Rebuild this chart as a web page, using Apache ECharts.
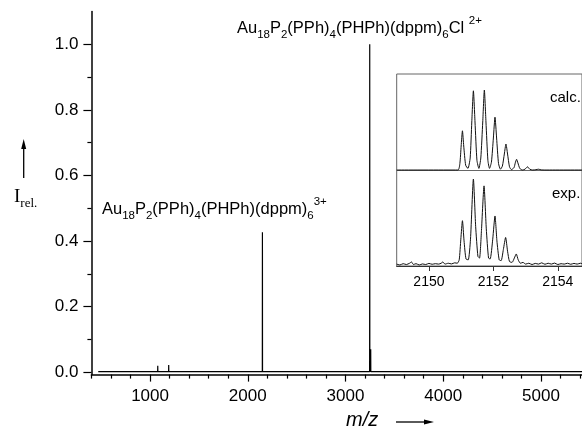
<!DOCTYPE html>
<html>
  <head>
    <meta charset="utf-8">
    <title>ESI mass spectrum</title>
    <script src="https://cdn.jsdelivr.net/npm/echarts@6/dist/echarts.min.js"></script>
    <style>
      html, body { margin: 0; padding: 0; background: #fff; }
    </style>
  </head>
  <body>
    <div id="main" style="width: 582px;height:433px;"></div>
    <script type="text/javascript">
      // main spectrum: stick peaks (m/z, relative intensity)
      var peakMz  = [488, 567, 640, 703, 772, 1079, 1191, 1450, 1614, 2150, 2354, 2553, 3248, 3258, 4345];
      var peakInt = [0.008, 0.006, 0.005, 0.007, 0.008, 0.020, 0.022, 0.004, 0.007, 0.427, 0.008, 0.004, 1.0, 0.07, 0.005];
      var baseLevel = 0.002;

      // axis ticks
      var xMajor = [1000, 2000, 3000, 4000, 5000];
      var xMinor = [400, 600, 800, 1200, 1400, 1600, 1800, 2200, 2400, 2600, 2800, 3200, 3400, 3600, 3800, 4200, 4400, 4600, 4800, 5200, 5400];
      var yMajor = [0, 0.2, 0.4, 0.6, 0.8, 1.0];
      var yMinor = [0.1, 0.3, 0.5, 0.7, 0.9];
      var insetTicks = [2150, 2152, 2154];

      // inset: calculated isotope pattern (profile)
      var calcX = [2149.0, 2150.90, 2150.96, 2151.00, 2151.04, 2151.08, 2151.14, 2151.21, 2151.28, 2151.33, 2151.38, 2151.43, 2151.49, 2151.55,
                   2151.61, 2151.67, 2151.72, 2151.77, 2151.83, 2151.88, 2151.94, 2152.00, 2152.05, 2152.10, 2152.16, 2152.22, 2152.28, 2152.34,
                   2152.39, 2152.44, 2152.50, 2152.56, 2152.64, 2152.68, 2152.72, 2152.76, 2152.82, 2152.90, 2152.98, 2153.06, 2153.13, 2153.22,
                   2153.32, 2153.40, 2153.48, 2153.60, 2155.0];
      var calcY = [0, 0, 0.08, 0.30, 0.49, 0.30, 0.06, 0.02, 0.15, 0.60, 0.99, 0.60, 0.12, 0.02,
                   0.15, 0.60, 1.0, 0.60, 0.12, 0.02, 0.10, 0.40, 0.66, 0.40, 0.08, 0.01, 0.05, 0.20,
                   0.325, 0.20, 0.04, 0.005, 0.03, 0.09, 0.134, 0.09, 0.02, 0, 0.01, 0.04, 0.01, 0,
                   0.004, 0.01, 0.002, 0, 0];

      // inset: experimental pattern
      var expX = [2149.0, 2149.1, 2149.2, 2149.3, 2149.4, 2149.46, 2149.52, 2149.6, 2149.7, 2149.8, 2149.9, 2150.0, 2150.1, 2150.2, 2150.3,
                  2150.38, 2150.43, 2150.5, 2150.6, 2150.7, 2150.8, 2150.88, 2150.94, 2150.99, 2151.04, 2151.09, 2151.15, 2151.22,
                  2151.29, 2151.38, 2151.45, 2151.52, 2151.57, 2151.63, 2151.71, 2151.78, 2151.85, 2151.90, 2151.98, 2152.05, 2152.11,
                  2152.18, 2152.24, 2152.31, 2152.38, 2152.44, 2152.50, 2152.58, 2152.65, 2152.71, 2152.77, 2152.84, 2152.92, 2153.0,
                  2153.1, 2153.2, 2153.3, 2153.4, 2153.5, 2153.6, 2153.7, 2153.8, 2153.9, 2154.0, 2154.1, 2154.2, 2154.3, 2154.4,
                  2154.5, 2154.6, 2154.7, 2154.8];
      var expY = [0.01, 0.0, 0.015, 0.005, 0.02, 0.035, 0.005, 0.015, 0.0, 0.012, 0.005, 0.018, 0.008, 0.015, 0.01,
                  0.02, 0.035, 0.01, 0.02, 0.012, 0.025, 0.02, 0.06, 0.30, 0.515, 0.28, 0.07, 0.06,
                  0.30, 1.0, 0.45, 0.10, 0.08, 0.40, 0.92, 0.42, 0.08, 0.07, 0.30, 0.57, 0.28,
                  0.06, 0.05, 0.18, 0.32, 0.16, 0.04, 0.03, 0.08, 0.128, 0.06, 0.02, 0.03, 0.01,
                  0.02, 0.005, 0.018, 0.01, 0.025, 0.008, 0.02, 0.01, 0.022, 0.005, 0.015, 0.01, 0.02, 0.008,
                  0.018, 0.01, 0.02, 0.01];

      var FONT = 'Liberation Sans, Arial, sans-serif';
      var plain = function (v) { return String(v); };

      // build stick spectrum
      var mainData = [[470, baseLevel]];
      for (var i = 0; i < peakMz.length; i++) {
        mainData.push([peakMz[i] - 1, baseLevel], [peakMz[i], peakInt[i]], [peakMz[i] + 1, baseLevel]);
      }
      mainData.push([5420, baseLevel]);

      var calcData = calcX.map(function (x, i) { return [x, calcY[i]]; });
      var expData = expX.map(function (x, i) { return [x, expY[i]]; });

      var myChart = echarts.init(document.getElementById('main'));

      var sub = { fontSize: 11.5, lineHeight: 12, verticalAlign: 'bottom', fontFamily: FONT };
      var sup = { fontSize: 11.5, lineHeight: 12, verticalAlign: 'top', fontFamily: FONT };

      var option = {
        animation: false,
        backgroundColor: '#fff',
        grid: [
          { left: 91.4, top: 11.5, right: 0, height: 363.1 },
          { left: 396.7, top: 74, right: -5, height: 96.5, show: true, borderColor: '#666', borderWidth: 1 },
          { left: 396.7, top: 170.5, right: -5, height: 95.5, show: true, borderColor: '#666', borderWidth: 1 }
        ],
        xAxis: [
          {
            gridIndex: 0, type: 'value', min: 400, max: 5420, position: 'bottom',
            axisLine: { onZero: false, lineStyle: { color: '#000', width: 1.5 } },
            axisTick: { customValues: xMajor, length: 7, lineStyle: { color: '#000', width: 1.2 } },
            axisLabel: { customValues: xMajor, fontSize: 17, margin: 13, color: '#000', fontFamily: FONT, formatter: plain },
            splitLine: { show: false }
          },
          {
            gridIndex: 0, type: 'value', min: 400, max: 5420, position: 'bottom', offset: 0,
            axisLine: { show: false, onZero: false },
            axisTick: { customValues: xMinor, length: 4, lineStyle: { color: '#000', width: 1.2 } },
            axisLabel: { show: false },
            splitLine: { show: false }
          },
          {
            gridIndex: 1, type: 'value', min: 2149, max: 2154.75,
            axisLine: { show: false }, axisTick: { show: false }, axisLabel: { show: false }, splitLine: { show: false }
          },
          {
            gridIndex: 2, type: 'value', min: 2149, max: 2154.75, position: 'bottom',
            axisLine: { onZero: false, lineStyle: { color: '#333', width: 1.2 } },
            axisTick: { customValues: insetTicks, length: 5, lineStyle: { color: '#333' } },
            axisLabel: { customValues: insetTicks, fontSize: 14, margin: 9, color: '#000', fontFamily: FONT, formatter: plain },
            splitLine: { show: false }
          }
        ],
        yAxis: [
          {
            gridIndex: 0, type: 'value', min: -0.007, max: 1.1, position: 'left',
            axisLine: { show: true, onZero: false, lineStyle: { color: '#000', width: 1.5 } },
            axisTick: { show: true, customValues: yMajor, length: 8, lineStyle: { color: '#000', width: 1.2 } },
            axisLabel: {
              customValues: yMajor, fontSize: 17, margin: 13, color: '#000', fontFamily: FONT,
              formatter: function (v) { return v.toFixed(1); }
            },
            splitLine: { show: false }
          },
          {
            gridIndex: 0, type: 'value', min: -0.007, max: 1.1, position: 'left', offset: 0,
            axisLine: { show: false, onZero: false },
            axisTick: { show: true, customValues: yMinor, length: 4, lineStyle: { color: '#000', width: 1.2 } },
            axisLabel: { show: false },
            splitLine: { show: false }
          },
          { gridIndex: 1, type: 'value', min: -0.006, max: 1.2, show: false },
          { gridIndex: 2, type: 'value', min: -0.012, max: 1.099, show: false }
        ],
        series: [
          {
            type: 'line', xAxisIndex: 0, yAxisIndex: 0, data: mainData,
            showSymbol: false, lineStyle: { color: '#000', width: 1.2 }
          },
          {
            type: 'line', xAxisIndex: 2, yAxisIndex: 2, data: calcData, smooth: 0.2,
            showSymbol: false, lineStyle: { color: '#111', width: 1 }
          },
          {
            type: 'line', xAxisIndex: 3, yAxisIndex: 3, data: expData, smooth: 0.2,
            showSymbol: false, lineStyle: { color: '#111', width: 1 }
          }
        ],
        graphic: [
          {
            type: 'text', left: 237, top: 15,
            style: {
              text: 'Au{s|18}P{s|2}(PPh){s|4}(PHPh)(dppm){s|6}Cl {p|2+}',
              rich: { s: sub, p: sup }, fill: '#000', fontSize: 16.5, lineHeight: 26, fontFamily: FONT
            }
          },
          {
            type: 'text', left: 102, top: 196,
            style: {
              text: 'Au{s|18}P{s|2}(PPh){s|4}(PHPh)(dppm){s|6}{p|3+}',
              rich: { s: sub, p: sup }, fill: '#000', fontSize: 16.5, lineHeight: 26, fontFamily: FONT
            }
          },
          {
            type: 'text', left: 550, top: 90,
            style: { text: 'calc.', fill: '#000', fontSize: 15, fontFamily: FONT }
          },
          {
            type: 'text', left: 552, top: 186,
            style: { text: 'exp.', fill: '#000', fontSize: 15, fontFamily: FONT }
          },
          {
            type: 'text', left: 14, top: 184,
            style: {
              text: 'I{r|rel.}',
              rich: { r: { fontSize: 13, lineHeight: 13, verticalAlign: 'bottom', fontFamily: 'Liberation Serif, Times New Roman, serif' } },
              fill: '#000', fontSize: 19, lineHeight: 26, fontFamily: 'Liberation Serif, Times New Roman, serif'
            }
          },
          { type: 'line', shape: { x1: 23.7, y1: 178, x2: 23.7, y2: 146 }, style: { stroke: '#000', lineWidth: 1.3 } },
          { type: 'polygon', shape: { points: [[23.7, 139], [21.2, 149], [26.2, 149]] }, style: { fill: '#000' } },
          {
            type: 'text', left: 346, top: 410,
            style: { text: 'm/z', fill: '#000', fontSize: 20, fontStyle: 'italic', fontFamily: FONT }
          },
          { type: 'line', shape: { x1: 396, y1: 422, x2: 426, y2: 422 }, style: { stroke: '#000', lineWidth: 1.3 } },
          { type: 'polygon', shape: { points: [[434, 422], [424, 419.5], [424, 424.5]] }, style: { fill: '#000' } }
        ]
      };

      myChart.setOption(option);
    </script>
  </body>
</html>
